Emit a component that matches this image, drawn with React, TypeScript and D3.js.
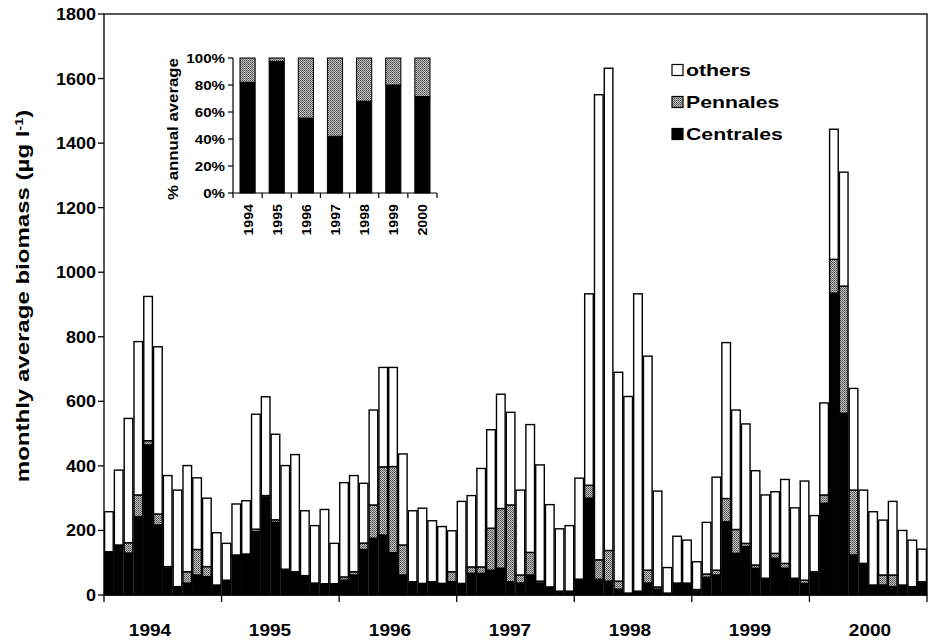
import React from "react";
import * as d3 from "d3";

// Monthly series, Jan 1994 – Dec 2000 (µg l-1)
const years = ["1994", "1995", "1996", "1997", "1998", "1999", "2000"];

const totalBiomass = [
  258, 387, 547, 785, 925, 769, 370, 325, 401, 363, 300, 193,
  160, 282, 292, 560, 614, 498, 401, 435, 261, 215, 265, 160,
  348, 370, 346, 573, 705, 705, 437, 261, 269, 230, 212, 199,
  290, 308, 392, 512, 622, 566, 325, 528, 403, 280, 205, 215,
  362, 933, 1550, 1632, 690, 615, 933, 740, 322, 85, 182, 170,
  103, 225, 365, 782, 573, 530, 385, 310, 320, 358, 270, 353,
  246, 595, 1443, 1310, 640, 325, 258, 232, 290, 200, 170, 142,
];

const centrales = [
  134, 155, 130, 243, 465, 217, 83, 26, 37, 62, 57, 31,
  46, 121, 127, 196, 303, 225, 77, 67, 57, 37, 35, 35,
  46, 62, 141, 176, 186, 131, 62, 41, 36, 41, 36, 41,
  36, 67, 67, 77, 83, 41, 37, 62, 37, 25, 12, 12,
  49, 300, 49, 43, 18, 6, 12, 37, 18, 6, 37, 37,
  12, 55, 62, 227, 129, 150, 83, 52, 114, 83, 52, 36,
  67, 284, 935, 563, 124, 98, 31, 31, 26, 31, 26, 41,
];

const pennales = [
  0, 0, 32, 67, 13, 34, 5, 0, 35, 79, 31, 0,
  0, 3, 0, 8, 5, 8, 3, 5, 3, 0, 0, 0,
  10, 10, 20, 103, 211, 267, 93, 0, 0, 0, 0, 31,
  0, 20, 20, 130, 185, 238, 25, 70, 6, 0, 0, 0,
  0, 40, 60, 95, 25, 0, 0, 40, 7, 0, 0, 0,
  5, 10, 15, 72, 74, 10, 10, 0, 15, 15, 0, 10,
  5, 26, 105, 394, 201, 0, 0, 31, 36, 0, 0, 0,
];

// Annual composition of the diatom biomass (% of annual average)
const insetCentralesPct = [82, 97.5, 55.5, 42, 68, 80, 71.5];
const insetPennalesPct = [18, 2.5, 44.5, 58, 32, 20, 28.5];

const yTicks = [0, 200, 400, 600, 800, 1000, 1200, 1400, 1600, 1800];
const pctTicks = [0, 20, 40, 60, 80, 100];
const legendItems = ["others", "Pennales", "Centrales"];

const FONT = "'Liberation Sans', Arial, sans-serif";

function Label({ x, y, children, size = 16, anchor = "middle", sx = 1.12, rotate = 0, weight = "bold" }: any) {
  return (
    <text
      transform={`translate(${x},${y}) rotate(${rotate}) scale(${sx},1)`}
      textAnchor={anchor}
      fontFamily={FONT}
      fontWeight={weight}
      fontSize={size}
      fill="#000"
    >
      {children}
    </text>
  );
}

export default function App() {
  const W = 936;
  const H = 643;
  const left = 104, right = 927, top = 14, bottom = 595;

  const months = d3.range(totalBiomass.length);
  const x = d3.scaleBand<number>().domain(months).range([left, right]).paddingInner(0.12).paddingOuter(0.06);
  const y = d3.scaleLinear().domain([0, 1800]).range([bottom, top]);

  const rows = months.map((i) => ({
    centrales: centrales[i],
    pennales: pennales[i],
    others: Math.max(0, totalBiomass[i] - centrales[i] - pennales[i]),
  }));
  const stack = d3.stack<any>().keys(["centrales", "pennales", "others"]);
  const series = stack(rows);
  const fills: Record<string, string> = { centrales: "#000", pennales: "url(#pennHatch)", others: "#fff" };

  const yearWidth = (right - left) / years.length;
  // year captions sit a little left of each year's centre
  const yearLabelX = d3.scalePoint<string>().domain(years).range([150, 870]);

  // inset
  const iLeft = 233, iRight = 437, iTop = 58, iBottom = 193;
  const ix = d3.scaleBand<string>().domain(years).range([iLeft, iRight]).paddingInner(0.48).paddingOuter(0.24);
  const iy = d3.scaleLinear().domain([0, 100]).range([iBottom, iTop]);
  const iStep = (iRight - iLeft) / years.length;
  const insetRows = years.map((yr, i) => ({ c: insetCentralesPct[i], p: insetPennalesPct[i] }));
  const insetSeries = d3.stack<any>().keys(["c", "p"])(insetRows);

  return (
    <svg width={W} height={H} style={{ position: "absolute", left: 0, top: 0, background: "#fff" }}>
      <defs>
        <pattern id="pennHatch" width="2" height="2" patternUnits="userSpaceOnUse">
          <rect width="2" height="2" fill="#c4c4c4" />
          <rect x="0" y="0" width="1" height="1" fill="#4a4a4a" />
          <rect x="1" y="1" width="1" height="1" fill="#6a6a6a" />
        </pattern>
      </defs>
      <rect width={W} height={H} fill="#fff" />

      {/* stacked monthly bars */}
      {series.map((s) => (
        <g key={s.key}>
          {s.map((d, i) => {
            const h = y(d[0]) - y(d[1]);
            if (h <= 0) return null;
            return (
              <rect
                key={i}
                x={x(i)}
                y={y(d[1])}
                width={x.bandwidth()}
                height={h}
                fill={fills[s.key]}
                stroke="#000"
                strokeWidth={1.4}
              />
            );
          })}
        </g>
      ))}

      {/* frame */}
      <rect x={left} y={top} width={right - left} height={bottom - top} fill="none" stroke="#000" strokeWidth={1.3} />

      {/* y axis */}
      {yTicks.map((t) => (
        <g key={t}>
          <line x1={left - 6} x2={left} y1={y(t)} y2={y(t)} stroke="#000" strokeWidth={1.3} />
          <Label x={left - 8} y={y(t) + 6} anchor="end" size={17} sx={1.06}>
            {t}
          </Label>
        </g>
      ))}

      {/* x axis: year boundaries and labels */}
      {d3.range(years.length + 1).map((k) => (
        <line key={k} x1={left + k * yearWidth} x2={left + k * yearWidth} y1={bottom} y2={bottom + 7} stroke="#000" strokeWidth={1.3} />
      ))}
      {years.map((yr) => (
        <Label key={yr} x={yearLabelX(yr)} y={636} size={17} sx={1.12}>
          {yr}
        </Label>
      ))}

      {/* y axis title */}
      <text
        transform={`translate(29,296) rotate(-90) scale(1.3,1)`}
        textAnchor="middle"
        fontFamily={FONT}
        fontWeight="bold"
        fontSize={18.5}
      >
        monthly average biomass (µg l
        <tspan baselineShift="super" fontSize={11}>-1</tspan>)
      </text>

      {/* legend */}
      {legendItems.map((name, i) => {
        const cy = 70 + i * 32;
        const key = name.toLowerCase();
        return (
          <g key={name}>
            <rect x={672} y={cy - 5.5} width={11} height={11} fill={fills[key]} stroke="#000" strokeWidth={1.2} />
            <Label x={686} y={cy + 6} anchor="start" size={17} sx={1.25}>
              {name}
            </Label>
          </g>
        );
      })}

      {/* inset: annual composition */}
      {insetSeries.map((s) => (
        <g key={s.key}>
          {s.map((d, i) => (
            <rect
              key={i}
              x={ix(years[i])}
              y={iy(d[1])}
              width={ix.bandwidth()}
              height={Math.max(0, iy(d[0]) - iy(d[1]))}
              fill={s.key === "c" ? "#000" : "url(#pennHatch)"}
              stroke="#000"
              strokeWidth={1}
            />
          ))}
        </g>
      ))}
      <line x1={iLeft} x2={iLeft} y1={iTop} y2={iBottom} stroke="#000" strokeWidth={1.2} />
      <line x1={iLeft} x2={iRight} y1={iBottom} y2={iBottom} stroke="#000" strokeWidth={1.2} />
      {pctTicks.map((t) => (
        <g key={t}>
          <line x1={iLeft - 5} x2={iLeft} y1={iy(t)} y2={iy(t)} stroke="#000" strokeWidth={1.2} />
          <Label x={iLeft - 8} y={iy(t) + 5} anchor="end" size={13.5} sx={1.12}>
            {`${t}%`}
          </Label>
        </g>
      ))}
      {d3.range(years.length + 1).map((k) => (
        <line key={k} x1={iLeft + k * iStep} x2={iLeft + k * iStep} y1={iBottom} y2={iBottom + 5} stroke="#000" strokeWidth={1.2} />
      ))}
      {years.map((yr) => (
        <Label key={yr} x={(ix(yr) as number) + ix.bandwidth() / 2 + 5} y={204} anchor="end" size={13.5} sx={1.05} rotate={-90}>
          {yr}
        </Label>
      ))}
      <Label x={178} y={129} size={14} sx={1.2} rotate={-90}>
        % annual average
      </Label>
    </svg>
  );
}
